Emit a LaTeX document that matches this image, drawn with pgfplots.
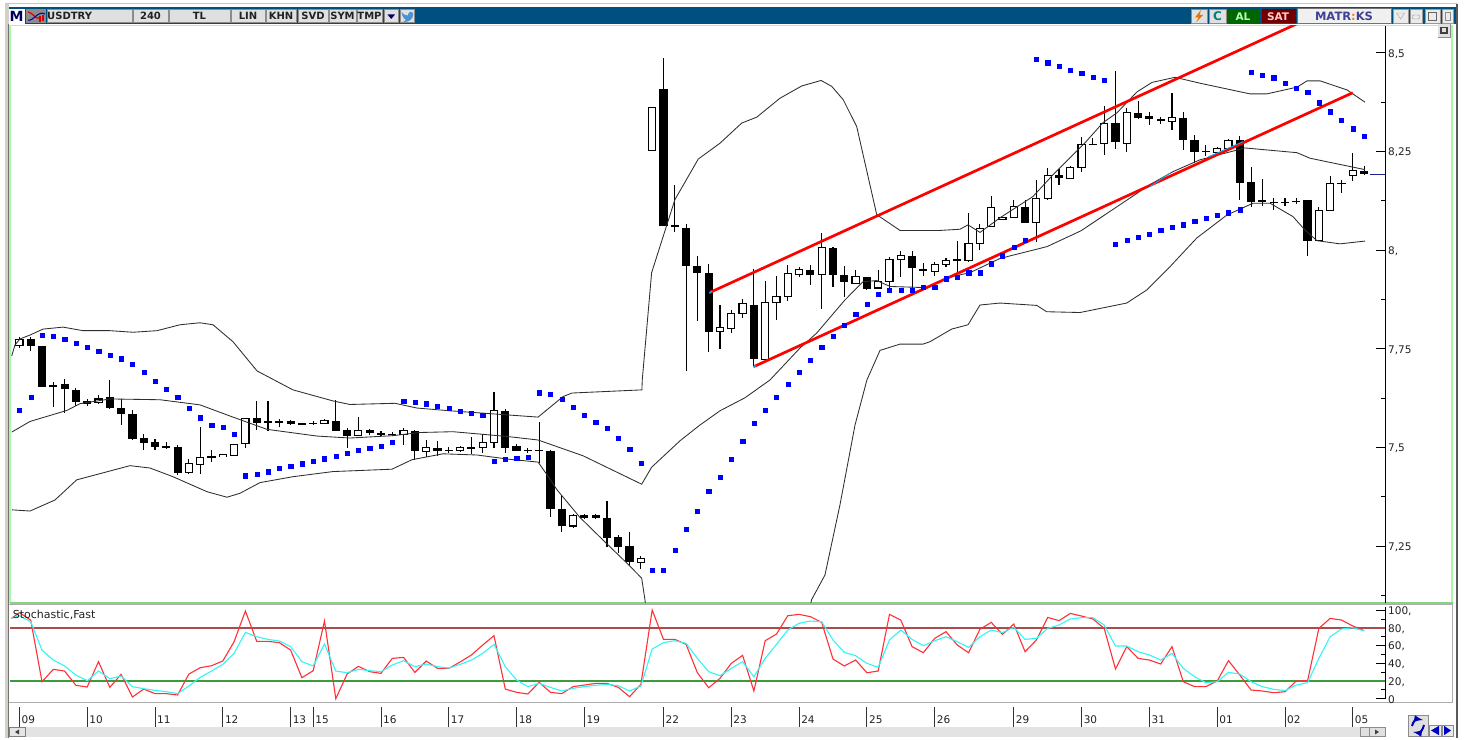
\documentclass[border=0pt]{standalone}
\usepackage{fontspec}
\setmainfont{DejaVu Sans}
\usepackage{pgfplots}
\usepackage{pgfplotstable}
\pgfplotsset{compat=1.18}
\definecolor{tbar}{HTML}{00507F}
\definecolor{btn}{HTML}{E0E0E0}
\definecolor{btnb}{HTML}{8C8C8C}
\definecolor{grn}{HTML}{A8F8A8}
\definecolor{sepg}{HTML}{84D484}
\definecolor{frame}{HTML}{D4D0C8}
\definecolor{txt}{HTML}{222222}
\definecolor{stbrown}{HTML}{A84C4C}
\definecolor{stgreen}{HTML}{3C9C3C}
\definecolor{stcyan}{HTML}{33F5F5}
\definecolor{stred}{HTML}{FF3038}
\definecolor{navyline}{HTML}{202090}
\pgfplotstableread{
i o c h l
0 7.758 7.775 7.781 7.752
7 7.613 7.623 7.632 7.611
15 7.436 7.459 7.472 7.432
16 7.456 7.474 7.553 7.432
18 7.476 7.483 7.483 7.476
19 7.480 7.509 7.509 7.480
20 7.509 7.574 7.574 7.499
27 7.562 7.569 7.572 7.560
30 7.531 7.543 7.578 7.529
34 7.534 7.543 7.549 7.507
36 7.491 7.500 7.519 7.476
39 7.492 7.501 7.504 7.488
41 7.499 7.513 7.534 7.487
42 7.513 7.593 7.641 7.498
49 7.301 7.327 7.332 7.295
55 7.209 7.219 7.225 7.193
56 8.252 8.361 8.361 8.252
62 7.795 7.805 7.860 7.749
63 7.801 7.839 7.848 7.791
64 7.839 7.865 7.877 7.829
66 7.724 7.867 7.923 7.722
67 7.867 7.882 7.934 7.823
68 7.882 7.941 7.963 7.872
69 7.939 7.950 7.958 7.931
71 7.939 8.007 8.043 7.851
74 7.916 7.933 7.951 7.915
76 7.904 7.920 7.951 7.901
77 7.921 7.977 7.983 7.901
78 7.976 7.986 7.998 7.931
81 7.945 7.964 7.971 7.935
82 7.963 7.973 7.981 7.957
84 7.975 8.017 8.094 7.970
85 8.016 8.055 8.066 8.001
86 8.061 8.109 8.136 8.060
87 8.077 8.084 8.084 8.077
88 8.083 8.111 8.126 8.081
90 8.071 8.132 8.178 8.021
91 8.130 8.189 8.208 8.128
93 8.182 8.209 8.214 8.182
94 8.209 8.267 8.288 8.199
96 8.270 8.321 8.366 8.240
98 8.271 8.350 8.360 8.248
102 8.327 8.336 8.399 8.305
106 8.247 8.257 8.262 8.242
107 8.257 8.279 8.282 8.254
115 8.024 8.100 8.109 8.024
116 8.100 8.168 8.189 8.100
118 8.189 8.201 8.247 8.176
}\upcandles
\pgfplotstableread{
i o c h l
1 7.775 7.758 7.780 7.745
2 7.758 7.654 7.758 7.654
3 7.659 7.654 7.667 7.603
4 7.662 7.649 7.674 7.588
5 7.647 7.616 7.651 7.605
6 7.618 7.611 7.624 7.604
8 7.629 7.600 7.670 7.598
9 7.600 7.585 7.623 7.557
10 7.586 7.521 7.595 7.519
11 7.524 7.511 7.535 7.493
12 7.513 7.502 7.521 7.493
13 7.503 7.500 7.515 7.496
14 7.500 7.436 7.506 7.431
17 7.478 7.474 7.494 7.464
21 7.574 7.562 7.618 7.545
22 7.567 7.562 7.618 7.543
23 7.567 7.562 7.572 7.552
24 7.568 7.560 7.571 7.558
25 7.562 7.557 7.562 7.557
26 7.563 7.560 7.568 7.557
28 7.568 7.543 7.621 7.541
29 7.545 7.530 7.549 7.498
31 7.545 7.536 7.546 7.532
32 7.537 7.533 7.541 7.529
33 7.535 7.532 7.540 7.529
35 7.543 7.491 7.545 7.469
37 7.500 7.492 7.517 7.479
38 7.495 7.492 7.501 7.487
40 7.500 7.498 7.526 7.484
43 7.592 7.499 7.597 7.485
44 7.504 7.492 7.509 7.491
45 7.495 7.492 7.500 7.485
46 7.495 7.490 7.564 7.461
47 7.492 7.344 7.494 7.324
48 7.345 7.301 7.380 7.286
50 7.329 7.322 7.332 7.320
51 7.329 7.322 7.332 7.320
52 7.322 7.271 7.365 7.249
53 7.274 7.249 7.279 7.232
54 7.251 7.209 7.285 7.203
57 8.408 8.062 8.487 8.060
58 8.063 8.060 8.164 8.047
59 8.057 7.961 8.066 7.694
60 7.959 7.942 7.986 7.820
61 7.943 7.792 7.965 7.743
65 7.861 7.724 7.952 7.705
70 7.951 7.938 7.963 7.912
72 8.006 7.936 8.009 7.906
73 7.937 7.919 7.960 7.881
75 7.933 7.901 7.933 7.899
79 7.986 7.956 7.998 7.899
80 7.952 7.950 7.967 7.935
83 7.977 7.973 8.023 7.942
89 8.109 8.070 8.126 8.068
92 8.190 8.183 8.206 8.166
95 8.269 8.267 8.285 8.266
97 8.322 8.274 8.454 8.257
99 8.348 8.335 8.377 8.332
100 8.339 8.333 8.349 8.318
101 8.332 8.328 8.337 8.319
103 8.336 8.280 8.351 8.254
104 8.280 8.248 8.292 8.220
105 8.252 8.249 8.267 8.239
108 8.278 8.171 8.290 8.128
109 8.172 8.122 8.210 8.109
110 8.126 8.121 8.181 8.111
111 8.123 8.121 8.132 8.102
112 8.123 8.121 8.132 8.113
113 8.125 8.122 8.132 8.117
114 8.126 8.024 8.126 7.986
117 8.171 8.167 8.178 8.144
119 8.201 8.192 8.214 8.191
}\downcandles
\pgfplotstableread{
i p
-0.68 7.732
-0.39 7.760
0.05 7.775
0.94 7.785
2.09 7.800
3.86 7.805
5.63 7.796
8.02 7.796
10.05 7.792
12.18 7.796
14.21 7.811
15.98 7.816
17.13 7.811
18.9 7.768
21.03 7.694
24.21 7.646
27.75 7.618
29.25 7.609
33.24 7.612
35.18 7.600
38.1 7.593
41.03 7.587
45.9 7.577
48.11 7.629
48.9 7.638
55.09 7.646
55.12 7.671
55.95 7.943
58.01 8.128
60.08 8.231
62.0 8.271
63.92 8.322
65.25 8.337
67.31 8.385
69.23 8.416
70.94 8.430
71.89 8.415
72.91 8.381
74.1 8.313
75.87 8.090
77.93 8.050
81.47 8.050
83.24 8.053
83.95 8.064
85.01 8.045
86.78 8.082
89.7 8.136
91.47 8.191
94.3 8.272
95.89 8.323
97.13 8.348
98.9 8.401
100.23 8.425
102.27 8.438
104.48 8.423
108.9 8.396
110.4 8.396
113.06 8.413
113.95 8.429
115.1 8.429
117.49 8.406
119.08 8.375
}\upperband
\pgfplotstableread{
i p
-0.68 7.539
0.94 7.566
4.21 7.594
5.36 7.611
8.02 7.623
12.44 7.621
15.98 7.608
18.9 7.577
21.91 7.546
26.33 7.529
29.25 7.524
33.06 7.530
35.45 7.538
38.37 7.540
43.15 7.528
45.9 7.519
49.88 7.479
55.07 7.407
55.95 7.450
58.46 7.517
60.23 7.557
62.0 7.593
64.21 7.626
66.42 7.671
69.08 7.752
70.56 7.790
73.06 7.874
74.66 7.920
75.87 7.923
77.05 7.908
80.29 7.905
82.06 7.930
84.12 7.943
86.78 7.979
90.94 8.009
93.94 8.049
97.13 8.110
100.05 8.166
102.09 8.199
104.48 8.229
108.46 8.259
113.06 8.247
114.21 8.233
119.08 8.204
}\midband
\pgfplotstableread{
i p
-0.65 7.342
0.94 7.339
3.15 7.367
5.07 7.418
9.79 7.454
11.56 7.448
13.59 7.426
16.6 7.388
18.37 7.374
19.52 7.384
21.29 7.411
24.21 7.426
27.75 7.439
32.97 7.445
34.74 7.469
37.48 7.484
40.49 7.481
43.41 7.470
45.9 7.463
46.69 7.431
47.57 7.393
49.6 7.323
51.63 7.266
53.76 7.207
55.07 7.169
55.36 7.114
56.25 6.86
57 6.7
62 6.4
67 6.6
69 6.95
70.1 7.114
71.29 7.177
72.62 7.355
73.95 7.557
75.0 7.671
76.16 7.746
77.93 7.762
79.97 7.762
80.58 7.768
82.5 7.800
83.95 7.811
85.01 7.861
86.78 7.866
90.03 7.860
90.91 7.844
93.86 7.842
97.99 7.866
99.76 7.899
101.82 7.958
104.2 8.031
106.86 8.089
109.17 8.119
110.67 8.119
112.71 8.085
113.77 8.051
114.83 8.024
116.87 8.016
119.08 8.023
}\lowband
\pgfplotstableread{
i p
0 7.594
1 7.628
2 7.785
3 7.783
4 7.775
5 7.764
6 7.754
7 7.744
8 7.734
9 7.725
10 7.711
11 7.692
12 7.668
13 7.648
14 7.628
15 7.600
16 7.576
17 7.556
18 7.551
19 7.533
20 7.429
21 7.432
22 7.439
23 7.447
24 7.453
25 7.459
26 7.465
27 7.472
28 7.479
29 7.486
30 7.494
31 7.498
32 7.504
33 7.513
34 7.617
35 7.616
36 7.611
37 7.605
38 7.599
39 7.593
40 7.587
41 7.583
42 7.466
43 7.470
44 7.473
45 7.476
46 7.639
47 7.635
48 7.622
49 7.602
50 7.583
51 7.564
52 7.549
53 7.524
54 7.496
55 7.461
56 7.190
57 7.190
58 7.241
59 7.294
60 7.339
61 7.390
62 7.426
63 7.471
64 7.517
65 7.562
66 7.595
67 7.628
68 7.661
69 7.692
70 7.722
71 7.754
72 7.783
73 7.811
74 7.837
75 7.863
76 7.889
77 7.898
78 7.898
79 7.898
80 7.906
81 7.906
82 7.928
83 7.932
84 7.943
85 7.943
86 7.966
87 7.986
88 8.007
89 8.026
90 8.484
91 8.475
92 8.466
93 8.456
94 8.448
95 8.438
96 8.430
97 8.015
98 8.025
99 8.033
100 8.041
101 8.050
102 8.058
103 8.065
104 8.073
105 8.081
106 8.089
107 8.095
108 8.103
109 8.452
110 8.444
111 8.437
112 8.424
113 8.411
114 8.400
115 8.374
116 8.351
117 8.329
118 8.308
119 8.290
}\sar
\pgfplotstableread{
i k d
-0.7 90.6 90.6
0 97.0 93.6
1 88.7 86.8
2 19.2 54.9
3 33.1 43.6
4 31.2 36.9
5 15.1 26.7
6 13.2 20.3
7 41.8 31.2
8 12.8 22.6
9 27.5 25.6
10 1.9 13.6
11 10.9 11.3
12 5.7 9.4
13 5.7 7.9
14 4.2 5.7
15 27.8 14.3
16 35.0 24.1
17 37.2 31.2
18 42.5 38.7
19 64.3 51.1
20 98.9 74.8
21 64.7 69.9
22 64.7 66.9
23 63.2 65.1
24 54.9 58.7
25 23.7 41.8
26 31.6 36.9
27 87.6 61.7
28 0.0 31.2
29 27.8 29.3
30 36.5 33.1
31 30.5 31.6
32 28.6 30.5
33 45.5 38.0
34 46.6 42.9
35 29.7 36.1
36 42.5 39.1
37 34.2 36.1
38 34.2 34.6
39 41.4 38.7
40 49.3 43.6
41 60.5 51.1
42 71.1 61.3
43 10.9 36.1
44 7.2 21.1
45 5.3 13.6
46 18.5 17.3
47 7.2 12.8
48 5.7 8.7
49 13.6 11.7
50 15.4 13.6
51 17.3 15.1
52 17.3 16.2
53 12.8 14.7
54 2.3 8.7
55 16.2 14.3
56 100.0 56.0
57 66.9 63.2
58 66.9 65.4
59 61.3 62.4
60 29.3 45.5
61 12.4 30.5
62 23.0 26.0
63 39.9 34.2
64 48.9 41.8
65 8.7 24.8
66 65.4 45.5
67 72.9 61.3
68 93.6 77.5
69 95.1 85.0
70 92.5 87.6
71 86.1 86.8
72 44.8 66.2
73 36.9 52.3
74 43.6 48.5
75 29.3 39.9
76 31.2 35.4
77 95.1 66.2
78 88.7 77.5
79 58.7 66.9
80 51.9 59.8
81 68.1 65.4
82 75.6 69.9
83 60.5 64.3
84 51.9 57.9
85 78.2 69.9
86 86.1 77.5
87 72.6 74.5
88 84.2 80.5
89 53.0 66.9
90 66.2 68.1
91 91.7 79.3
92 88.0 83.1
93 96.2 89.9
94 93.2 91.4
95 89.9 91.4
96 79.3 83.1
97 33.5 59.4
98 58.7 59.4
99 45.5 53.0
100 43.6 49.3
101 39.1 43.6
102 58.7 51.1
103 19.2 34.2
104 13.6 24.8
105 13.6 18.1
106 20.0 19.2
107 42.9 29.7
108 26.7 27.8
109 9.8 19.2
110 8.7 13.6
111 6.8 10.6
112 7.9 9.1
113 20.0 15.4
114 20.3 18.1
115 79.3 45.5
116 90.6 69.9
117 88.7 78.6
118 82.0 80.1
119 76.7 76.4
}\stoch
\pgfplotsset{
  wick/.style={draw=none, no markers, forget plot, error bars/.cd, y dir=both, y explicit, error mark=none,
    error bar style={solid, draw=black, line width=1.05pt}},
  body/.style={draw=none, no markers, forget plot, error bars/.cd, y dir=both, y explicit, error mark=none,
    error bar style={solid, draw=black, line width=8.2pt}},
  inner/.style={draw=none, no markers, forget plot, error bars/.cd, y dir=both, y explicit, error mark=none,
    error bar style={solid, draw=white, line width=6pt}},
  band/.style={black!82, line width=0.85pt, no markers, forget plot},
  chartbase/.style={scale only axis, width=1375pt, xmin=-0.832, xmax=120.85,
    axis x line=bottom, x axis line style={draw=none}, xtick=\empty,
    axis y line=right, y axis line style={-, line width=0.8pt},
    tick align=inside, major tick length=9pt, minor tick length=4pt,
    tick style={black, line width=0.8pt},
    yticklabel style={anchor=west, inner sep=0pt, xshift=3pt, yshift=-1pt, text=txt, font=\fontsize{10.5}{12}\selectfont}},
}
\newcommand{\btnbox}[3]{\fill[btn] (#1,9.5) rectangle (#2,23); \draw[btnb, line width=1pt] (#1,9.5) rectangle (#2,23);
  \node[text=txt, inner sep=0pt, font=\fontsize{10}{12}\bfseries] at ({(#1+#2)/2},16.3) {#3};}
\begin{document}
\begin{tikzpicture}[x=1pt,y=1pt]
\useasboundingbox (0,0) rectangle (1471,739);
\fill[white] (0,0) rectangle (1471,739);
\begin{scope}[y=-1pt, yshift=739pt]
  % window frame
  \draw[black!22, line width=1pt] (5,4) -- (1457,4);
  \fill[frame] (5,4) rectangle (8.5,738);
  \draw[black!55, line width=0.8pt] (8.5,24) -- (8.5,738);
  \fill[black!65] (1456,4) rectangle (1458,738);
  % title bar
  \fill[tbar] (8.5,7.5) rectangle (1456,24);
  \fill[white] (9,9) rectangle (25,24);
  \node[text=blue!20!black!80!blue, inner sep=0pt, font=\fontsize{14}{14}\bfseries] at (16.5,16.5) {M};
  \fill[black!45] (26,9.5) rectangle (46,23);
  \draw[red!85!black, line width=1.2pt] (28,12) .. controls (32,12) and (36,20) .. (40,18);
  \draw[blue!70!black, line width=1pt] (28,20) .. controls (33,22) and (38,10) .. (45,14);
  \fill[red!85!black] (39,16) rectangle (41,22); \fill[red!85!black] (42,15) rectangle (44,21);
  \btnbox{47}{132}{}
  \node[anchor=west, text=txt, inner sep=0pt, font=\fontsize{10}{12}\bfseries] at (47,16.3) {USDTRY};
  \btnbox{133}{168}{240}
  \btnbox{169}{230}{TL}
  \btnbox{231}{265}{LIN}
  \btnbox{266}{296}{KHN}
  \btnbox{298}{328}{SVD}
  \btnbox{329}{356}{SYM}
  \btnbox{357}{382}{TMP}
  \btnbox{384}{398}{}
  \fill[black!60!blue] (387.5,14.5) -- (395,14.5) -- (391.2,19) -- cycle;
  \btnbox{400}{414}{}
  \fill[cyan!60!blue!75] (401.5,12) .. controls (404,15) and (406,15.5) .. (408,15.5) .. controls (408,12) and (411,10.5) .. (413,13) -- (413,15) .. controls (413,19) and (409,22.5) .. (403,22) .. controls (405,21) and (406,20) .. (406,20) .. controls (404,19) and (402,16) .. cycle;
  % right side buttons
  \fill[btn] (1191,9) rectangle (1207,23); \draw[btnb] (1191,9) rectangle (1207,23);
  \fill[orange!90!black] (1201,10) -- (1195,17.5) -- (1198.5,17.5) -- (1196,22.5) -- (1203,15) -- (1199.5,15) -- cycle;
  \fill[btn] (1209,9) rectangle (1226,23); \draw[btnb] (1209,9) rectangle (1226,23);
  \node[text=teal, inner sep=0pt, font=\fontsize{12}{12}\bfseries] at (1217.5,16) {C};
  \fill[green!40!black] (1227,9) rectangle (1260,23);
  \node[text=green!30!white, inner sep=0pt, font=\fontsize{10.5}{12}\bfseries] at (1243,16.2) {AL};
  \fill[red!45!black] (1262,9) rectangle (1296,23);
  \node[text=red!20!white, inner sep=0pt, font=\fontsize{10.5}{12}\bfseries] at (1278,16.2) {SAT};
  \fill[black!6] (1297,8.5) rectangle (1391,23); \draw[black!55] (1297,8.5) rectangle (1391,23);
  \node[text=blue!45!black!75, inner sep=0pt, font=\fontsize{11.5}{12}\bfseries] at (1344,16.3) {MATR\textcolor{orange}{:}KS};
  \foreach \a/\b in {1393/1408,1410/1422,1425/1440,1442/1453} {\fill[black!8] (\a,9) rectangle (\b,23); \draw[black!40] (\a,9) rectangle (\b,23);}
  \draw[black!35] (1396.5,13) -- (1404.5,13) -- (1400.5,19) -- cycle;
  \draw[black!45, rounded corners=1pt] (1412.5,15) rectangle (1419.5,19);
  \draw[black!60] (1428,12) rectangle (1436,20);
  \draw[black!45] (1445,12) rectangle (1450,20);
  % green frame and panel borders
  \draw[grn, line width=1.8pt] (10,25.5) -- (1451.7,25.5);
  \draw[grn, line width=1.8pt] (10,25) -- (10,603);
  \draw[grn, line width=1.8pt] (1451.7,25) -- (1451.7,603);
  \draw[sepg, line width=1.6pt] (10,602.8) -- (1452.5,602.8);
  \draw[black!32, line width=1pt] (9,604) -- (1452.7,604);
  \draw[black!32, line width=1pt] (9,702.5) -- (1452.7,702.5);
  \draw[black!32, line width=1pt] (1452.7,604) -- (1452.7,702.5);
  \fill[btn] (1438,24.5) rectangle (1450,37); \draw[black!45] (1438,37) -- (1450,37) -- (1450,24.5);
  \draw[black!75, line width=1.2pt] (1441,27.5) rectangle (1447,33);
  % scrollbar
  \fill[black!11] (9,727) rectangle (1385,737);
  \fill[black!10] (9,727.5) rectangle (25,736.5); \draw[black!50] (9,727.5) rectangle (25,736.5);
  \fill[black!75] (15,732) -- (19,729.5) -- (19,734.5) -- cycle;
  \fill[btn] (1360,727.5) rectangle (1369,736.5); \draw[black!45] (1360,727.5) rectangle (1369,736.5);
  \fill[btn] (1369,727.5) rectangle (1385,736.5); \draw[black!45] (1369,727.5) rectangle (1385,736.5);
  \fill[black!75] (1379,732) -- (1375,729.5) -- (1375,734.5) -- cycle;
  % refresh and arrows
  \fill[black!12] (1408,715) rectangle (1428,736); \draw[black!45, line width=1pt] (1408,715) rectangle (1428,736);
  \draw[blue!70!black, line width=2pt, -latex] (1412,726) .. controls (1413,721) and (1417,719) .. (1423,720);
  \draw[blue!70!black, line width=2pt, -latex] (1424,725) .. controls (1423,730) and (1419,733) .. (1413,732);
  \fill[black!8] (1429,725) rectangle (1441,736); \draw[black!45] (1429,725) rectangle (1441,736);
  \fill[blue!75!black] (1431,730.5) -- (1439,725.8) -- (1439,735.2) -- cycle;
  \fill[black!8] (1442,725) rectangle (1453,736); \draw[black!45] (1442,725) rectangle (1453,736);
  \fill[blue!75!black] (1451,730.5) -- (1444,725.8) -- (1444,735.2) -- cycle;
\end{scope}
% main price panel
\begin{axis}[chartbase, at={(10pt,136pt)}, anchor=south west, height=577pt,
  ymin=7.106, ymax=8.568,
  ytick={7.25,7.5,7.75,8,8.25,8.5},
  yticklabels={{7,25},{7,5},{7,75},{8,},{8,25},{8,5}},
  minor ytick={7.125,7.375,7.625,7.875,8.125,8.375}]
  \addplot[wick] table[x=i, y expr=(\thisrow{h}+\thisrow{l})/2, y error expr={(\thisrow{h}-\thisrow{l})/2}] {\upcandles};
  \addplot[wick] table[x=i, y expr=(\thisrow{h}+\thisrow{l})/2, y error expr={(\thisrow{h}-\thisrow{l})/2}] {\downcandles};
  \addplot[body] table[x=i, y expr=(\thisrow{o}+\thisrow{c})/2, y error expr={max(abs(\thisrow{o}-\thisrow{c})/2,0.0012)}] {\downcandles};
  \addplot[body] table[x=i, y expr=(\thisrow{o}+\thisrow{c})/2, y error expr={abs(\thisrow{o}-\thisrow{c})/2+0.0012}] {\upcandles};
  \addplot[inner] table[x=i, y expr=(\thisrow{o}+\thisrow{c})/2, y error expr={max(abs(\thisrow{o}-\thisrow{c})/2-0.0014,0.0003)}] {\upcandles};
  \addplot[band] table[x=i, y=p] {\upperband};
  \addplot[band] table[x=i, y=p] {\midband};
  \addplot[band] table[x=i, y=p] {\lowband};
  \addplot[only marks, mark=square*, mark size=2.1pt, mark options={solid, draw=blue, fill=blue, line width=0.2pt}, forget plot] table[x=i, y=p] {\sar};
  \addplot[navyline, line width=0.9pt, no markers, forget plot] coordinates {(119.5,8.192) (120.85,8.192)};
  \addplot[red, line width=2.7pt, no markers, forget plot] coordinates {(61.12,7.893) (112.4,8.565) (114,8.586)};
  \addplot[red, line width=2.7pt, no markers, forget plot] coordinates {(65.0,7.705) (118,8.399)};
  \addplot[cyan, line width=0.9pt, no markers, forget plot] coordinates {(100.05,8.161) (101.82,8.195)};
  \addplot[cyan, line width=0.9pt, no markers, forget plot] coordinates {(105.19,8.236) (108.29,8.275)};
  \addplot[cyan, line width=1.4pt, no markers, forget plot] coordinates {(61.05,7.891) (61.3,7.896)};
  \addplot[cyan, line width=1.4pt, no markers, forget plot] coordinates {(64.95,7.704) (65.2,7.708)};
\end{axis}
% stochastic panel
\begin{axis}[chartbase, at={(10pt,37pt)}, anchor=south west, height=98pt, clip=false,
  ymin=-3.7, ymax=106.8,
  y axis line style={draw=none},
  ytick={0,20,40,60,80,100},
  yticklabels={{0},{20,},{40,},{60,},{80,},{100,}},
  minor ytick={10,30,50,70,90}]
  \addplot[stbrown, line width=1.6pt, no markers, forget plot] coordinates {(-0.8,80) (120.85,80)};
  \addplot[stgreen, line width=1.6pt, no markers, forget plot] coordinates {(-0.8,20) (120.85,20)};
  \addplot[stred, line width=1.1pt, no markers, forget plot] table[x=i, y=k] {\stoch};
  \addplot[stcyan, line width=1.1pt, no markers, forget plot] table[x=i, y=d] {\stoch};
  \draw[black, line width=0.8pt] (axis cs:120.85,0) -- (axis cs:120.85,103);
  \node[anchor=west, inner sep=0pt, text=txt, font=\fontsize{11}{12}\selectfont] at (axis cs:-0.6,95) {Stochastic,Fast};
\end{axis}
% date strip
\begin{axis}[scale only axis, width=1375pt, height=20pt, at={(10pt,12pt)}, anchor=south west,
  xmin=-0.832, xmax=120.85, ymin=0, ymax=1,
  axis y line=left, y axis line style={draw=none}, ytick=\empty,
  axis x line=bottom, x axis line style={draw=none},
  tick align=inside, major tick length=20pt, tick style={black!80, line width=0.8pt},
  xtick={0,6,12,18,24,26,32,38,44,50,57,63,69,75,81,88,94,100,106,112,118},
  xticklabels={09,10,11,12,13,15,16,17,18,19,22,23,24,25,26,29,30,31,01,02,05},
  xticklabel style={anchor=west, inner sep=0pt, xshift=2pt, yshift=7pt, text=txt, font=\fontsize{10.5}{12}\selectfont}]
  \addplot[draw=none, forget plot] coordinates {(0,0) (118,1)};
\end{axis}
\end{tikzpicture}
\end{document}
